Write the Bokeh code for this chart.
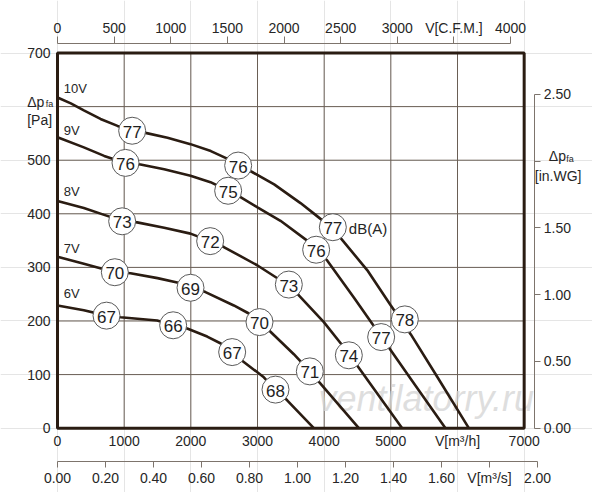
from bokeh.plotting import figure
from bokeh.models import Range1d, LinearAxis, FixedTicker
from bokeh.core.properties import value
from bokeh.embed import file_html
from bokeh.resources import INLINE

# fan curves: airflow [m3/h] vs static pressure [Pa], one per control voltage
Q_10V = [0, 200, 395, 645, 900, 1120, 1320, 1650, 1995, 2300, 2545, 2710, 2920, 3250, 3645, 3870, 4130, 4245, 4645, 4995, 5300, 5700, 6170]
P_10V = [617, 606, 593, 577, 564, 556, 551, 542, 530, 517, 503, 490, 478, 455, 420, 398, 372, 355, 295, 230, 175, 95, 0]
Q_9V = [0, 395, 700, 1020, 1245, 1600, 1995, 2295, 2560, 2745, 3000, 3345, 3745, 3880, 4045, 4445, 4855, 5300, 5820]
P_9V = [543, 524, 508, 495, 492, 483, 471, 459, 443, 431, 412, 387, 350, 333, 313, 244, 171, 92, 0]
Q_8V = [0, 395, 700, 970, 1195, 1600, 1995, 2290, 2495, 2995, 3345, 3470, 3620, 3995, 4295, 4370, 4495, 5170]
P_8V = [424, 411, 398, 387, 384, 374, 363, 349, 338, 304, 276, 266, 248, 198, 151, 138, 117, 0]
Q_7V = [0, 395, 860, 1095, 1500, 1795, 1995, 2220, 2645, 2870, 3030, 3195, 3545, 3785, 3945, 4520]
P_7V = [320, 307, 291, 289, 280, 272, 263, 254, 229, 214, 198, 180, 138, 106, 83, 0]
Q_6V = [0, 395, 735, 945, 1495, 1735, 1945, 2245, 2450, 2620, 2770, 3095, 3270, 3445, 3845]
P_6V = [229, 220, 210, 207, 201, 192, 186, 171, 158, 142, 126, 95, 72, 52, 0]

VOLT_LABELS = ["10V", "9V", "8V", "7V", "6V"]
VOLT_LABEL_P = [634, 555, 442, 335, 252]

# sound level markers dB(A)
DB_Q = [1120, 2710, 4130, 5210,
        1020, 2560, 3880, 4855,
        970, 2290, 3470, 4370,
        860, 1995, 3030, 3785,
        735, 1735, 2620, 3270]
DB_P = [555, 490, 375, 203,
        495, 443, 333, 170,
        386, 349, 268, 136,
        291, 262, 198, 106,
        210, 192, 142, 72]
DB_VAL = ["77", "76", "77", "78",
          "76", "75", "76", "77",
          "73", "72", "73", "74",
          "70", "69", "70", "71",
          "67", "66", "67", "68"]

# axes
Q_MAX, P_MAX = 7000, 700
Q_TICKS = [0, 1000, 2000, 3000, 4000, 5000, 6000, 7000]
Q_LABELS = ["0", "1000", "2000", "3000", "4000", "5000", "V[m³/h]", "7000"]
Q_GRID = [1000, 2000, 3000, 4000, 5000, 6000]
P_TICKS = [0, 100, 200, 300, 400, 500, 600, 700]
P_LABELS = ["0", "100", "200", "300", "400", "500", "", "700"]
P_GRID = [100, 200, 300, 400, 500, 600]
CFM_TICKS = [0, 500, 1000, 1500, 2000, 2500, 3000, 3500, 4000]
CFM_LABELS = ["0", "500", "1000", "1500", "2000", "2500", "3000", "V[C.F.M.]", "4000"]
M3S_TICKS = [0.0, 0.2, 0.4, 0.6, 0.8, 1.0, 1.2, 1.4, 1.6, 1.8, 2.0]
M3S_LABELS = ["0.00", "0.20", "0.40", "0.60", "0.80", "1.00", "1.20", "1.40", "1.60", "V[m³/s]", "2.00"]
WG_TICKS = [0.0, 0.5, 1.0, 1.5, 2.0, 2.5]
WG_LABELS = ["0.00", "0.50", "1.00", "1.50", "", "2.50"]

M3H_PER_CFM = 1.699
PA_PER_INWG = 249.09
M3H_PER_M3S = 3600.0

FONT = "Liberation Sans"
INK = "#2a1c12"
TXT = "#262626"
AX = "#7d746c"
GRID = "#6a5f55"

# the frame fills the whole canvas so that every axis can be pinned in place
x0, x1 = -855, 8025
y0, y1 = -120, 798

p = figure(width=592, height=492,
           min_border_left=0, min_border_right=0, min_border_top=0, min_border_bottom=0,
           x_range=Range1d(x0, x1), y_range=Range1d(y0, y1),
           x_axis_location=None, y_axis_location=None,
           output_backend="svg", toolbar_location=None, tools="")
p.outline_line_color = None
p.background_fill_color = "white"
p.border_fill_color = "white"

p.extra_x_ranges = {"cfm": Range1d(x0 / M3H_PER_CFM, x1 / M3H_PER_CFM),
                    "m3s": Range1d(x0 / M3H_PER_M3S, x1 / M3H_PER_M3S)}
p.extra_y_ranges = {"wg": Range1d(y0 / PA_PER_INWG, y1 / PA_PER_INWG)}


def add_axis(side, at, ticks, labels, tick_out, standoff, line=True, **kw):
    ax = LinearAxis(fixed_location=at, **kw)
    ax.ticker = FixedTicker(ticks=ticks)
    ax.major_label_overrides = dict(zip(ticks, labels))
    ax.major_tick_out = tick_out
    ax.major_tick_in = 0
    ax.minor_tick_out = 0
    ax.minor_tick_in = 0
    ax.major_label_standoff = standoff
    ax.major_label_text_font = FONT
    ax.major_label_text_font_size = "14px"
    ax.major_label_text_color = TXT
    ax.axis_line_color = AX if line else None
    ax.major_tick_line_color = AX if line else None
    p.add_layout(ax, side)


add_axis("below", 0, Q_TICKS, Q_LABELS, 0, 5, line=False, bounds=(0, Q_MAX))
add_axis("left", 0, P_TICKS, P_LABELS, 0, 7, line=False, bounds=(0, P_MAX))
add_axis("below", -62, M3S_TICKS, M3S_LABELS, 6, 3, x_range_name="m3s", bounds=(0, 2.0))
add_axis("above", 718, CFM_TICKS, CFM_LABELS, 7, 0, x_range_name="cfm", bounds=(0, 4000))
add_axis("right", 7160, WG_TICKS, WG_LABELS, 6, 3, y_range_name="wg", bounds=(0, 2.5))

# grid inside the chart box only
p.segment(x0=Q_GRID, y0=[0] * len(Q_GRID), x1=Q_GRID, y1=[P_MAX] * len(Q_GRID),
          line_color=GRID, line_width=1)
p.segment(x0=[0] * len(P_GRID), y0=P_GRID, x1=[Q_MAX] * len(P_GRID), y1=P_GRID,
          line_color=GRID, line_width=1)

# watermark
p.text(x=[3915], y=[56], text=["ventilatorry.ru"], text_font=value(FONT),
       text_font_size="36px", text_font_style="italic", text_color="#d4d4d4",
       text_alpha=0.75, text_baseline="alphabetic")

for q, pa in [(Q_10V, P_10V), (Q_9V, P_9V), (Q_8V, P_8V), (Q_7V, P_7V), (Q_6V, P_6V)]:
    p.line(q, pa, line_color=INK, line_width=2.6)

# chart box border
p.quad(left=[0], right=[Q_MAX], bottom=[0], top=[P_MAX], fill_color=None,
       line_color=INK, line_width=3)

p.text(x=[95] * len(VOLT_LABELS), y=VOLT_LABEL_P, text=VOLT_LABELS, text_font=value(FONT),
       text_font_size="13px", text_color=TXT, text_baseline="middle")

p.scatter(DB_Q, DB_P, size=27, marker="circle", fill_color="white",
          line_color="#5a5a5a", line_width=1)
p.text(x=DB_Q, y=DB_P, text=DB_VAL, text_font=value(FONT), text_font_size="17px",
       text_color="#1e1e1e", text_align="center", text_baseline="middle", y_offset=1)
p.text(x=[4370], y=[372], text=["dB(A)"], text_font=value(FONT), text_font_size="15px",
       text_color=TXT, text_baseline="middle")

# unit captions: Δp_fa [Pa] on the left, Δp_fa [in.WG] on the right
p.text(x=[-455, -455, 7370, 7160], y=[608, 575, 507, 470],
       text=["Δp", "[Pa]", "Δp", "[in.WG]"], text_font=value(FONT), text_font_size="14px",
       text_color=TXT, text_baseline="alphabetic")
p.text(x=[-175, 7630], y=[604, 502], text=["fa", "fa"], text_font=value(FONT),
       text_font_size="9px", text_color=TXT, text_baseline="alphabetic")

open("out.html", "w").write(file_html(p, INLINE))
